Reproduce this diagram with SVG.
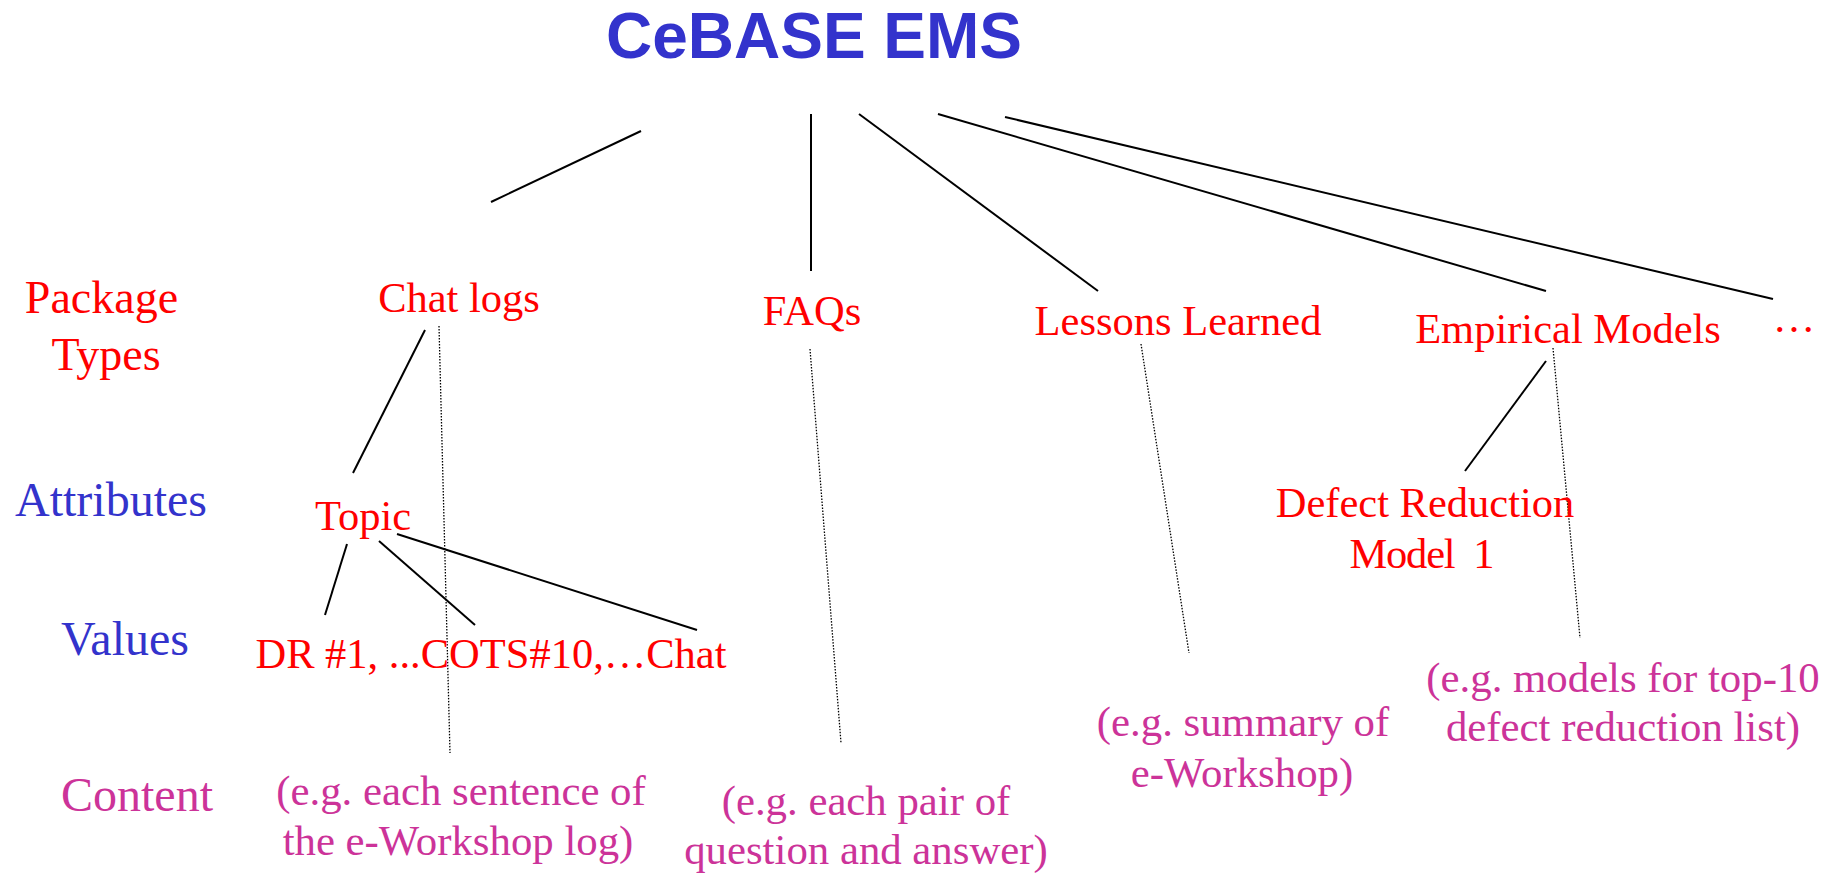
<svg xmlns="http://www.w3.org/2000/svg" width="1837" height="874" viewBox="0 0 1837 874">
<style>
.title{font-family:"Liberation Sans",Arial,sans-serif;font-weight:bold;font-size:64px;fill:#3333CC}
.lbl{font-family:"Liberation Serif","Times New Roman",serif;font-size:48px;text-anchor:middle}
.lbl.sm{font-size:46px}
.node{font-family:"Liberation Serif","Times New Roman",serif;font-size:42.5px;fill:#FF0000;text-anchor:middle}
.cont{font-family:"Liberation Serif","Times New Roman",serif;font-size:42.8px;fill:#CC3399;text-anchor:middle}
.red{fill:#FF0000}.blue{fill:#3333CC}.mag{fill:#CC3399}
.solid{stroke:#000;stroke-width:2;fill:none}
.dot{stroke:#000;stroke-width:1.3;stroke-dasharray:1.5 1.5;fill:none}
</style>
<rect width="1837" height="874" fill="#fff"/>
<g id="title"><text class="title" x="814" y="58" text-anchor="middle">CeBASE EMS</text></g>
<g id="row-labels">
<text class="lbl sm red" x="101.5" y="313">Package</text>
<text class="lbl sm red" x="106" y="370">Types</text>
<text class="lbl blue" x="111" y="516">Attributes</text>
<text class="lbl blue" x="125" y="655">Values</text>
<text class="lbl mag" x="137" y="811">Content</text>
</g>
<g id="connectors">
<line class="solid" x1="641" y1="131" x2="491" y2="202"/>
<line class="solid" x1="811" y1="114" x2="811" y2="271"/>
<line class="solid" x1="859" y1="114" x2="1098" y2="291"/>
<line class="solid" x1="938" y1="114" x2="1546" y2="291"/>
<line class="solid" x1="1005" y1="117" x2="1773" y2="299"/>
<line class="solid" x1="425" y1="330" x2="353" y2="473"/>
<line class="solid" x1="347" y1="544" x2="325" y2="615"/>
<line class="solid" x1="379" y1="541" x2="475" y2="625"/>
<line class="solid" x1="397" y1="534" x2="697" y2="630"/>
<line class="solid" x1="1546" y1="361" x2="1465" y2="471"/>
<line class="dot" x1="439" y1="326" x2="450" y2="753"/>
<line class="dot" x1="810" y1="349" x2="841" y2="743"/>
<line class="dot" x1="1141" y1="344" x2="1189" y2="653"/>
<line class="dot" x1="1553" y1="348" x2="1580" y2="638"/>
</g>
<g id="chat-logs"><text class="node" x="459" y="312">Chat logs</text></g>
<g id="faqs"><text class="node" x="812" y="325">FAQs</text></g>
<g id="lessons-learned"><text class="node" x="1178" y="335">Lessons Learned</text></g>
<g id="empirical-models"><text class="node" x="1568" y="343">Empirical Models</text></g>
<g id="more"><text class="node" x="1794" y="332">…</text></g>
<g id="topic"><text class="node" x="363" y="530">Topic</text></g>
<g id="values"><text class="node" x="491" y="668">DR #1, ...COTS#10,…Chat</text></g>
<g id="defect-reduction"><text class="node" x="1425" y="517">Defect Reduction</text><text class="node" x="1422" y="568" xml:space="preserve" textLength="145" lengthAdjust="spacing">Model  1</text></g>
<g id="content-chat"><text class="cont" x="461" y="805">(e.g. each sentence of</text><text class="cont" x="458" y="855">the e-Workshop log)</text></g>
<g id="content-faqs"><text class="cont" x="866" y="815">(e.g. each pair of</text><text class="cont" x="866" y="864">question and answer)</text></g>
<g id="content-lessons"><text class="cont" x="1243" y="736">(e.g. summary of</text><text class="cont" x="1242" y="787">e-Workshop)</text></g>
<g id="content-models"><text class="cont" x="1623" y="692">(e.g. models for top-10</text><text class="cont" x="1623" y="741">defect reduction list)</text></g>
</svg>
